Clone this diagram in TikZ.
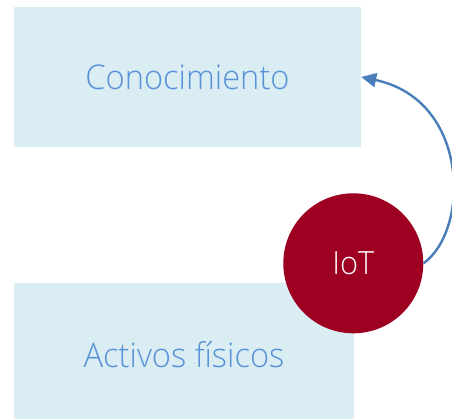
\documentclass[tikz,border=0pt]{standalone}
\usepackage{fontspec}
\setmainfont{Open Sans}[UprightFont=* Light, FakeStretch=0.96]
\usetikzlibrary{arrows.meta}
\definecolor{boxfill}{HTML}{DAEDF3}
\definecolor{boxtext}{HTML}{5A92D8}
\definecolor{iotred}{HTML}{9E0022}
\definecolor{arrowblue}{HTML}{4A7EBB}
\tikzset{
  infobox/.style={fill=boxfill, draw=none, inner sep=0pt, text=boxtext, font=\fontsize{34}{40}\selectfont},
  iotnode/.style={circle, fill=iotred, draw=none, inner sep=0pt, minimum size=140pt, text=white, font=\fontsize{32}{38}\selectfont},
  link/.style={draw=arrowblue, line width=2.4pt, -{Triangle[length=15pt,width=14pt]}}
}
\begin{document}
\begin{tikzpicture}[x=1pt,y=-1pt]
\useasboundingbox (0,0) rectangle (452,419);
\clip (0,0) rectangle (452,419);
\node[infobox, minimum width=347pt, minimum height=140pt] (con) at (187.5,77) {Conocimiento};
\node[infobox, minimum width=340pt, minimum height=144pt] (act) at (184,355) {Activos físicos};
\node[iotnode] (iot) at (353.3,263.3) {IoT};
\draw[link] (iot.east) .. controls (470,230) and (470,100) .. (con.east);
\end{tikzpicture}
\end{document}
